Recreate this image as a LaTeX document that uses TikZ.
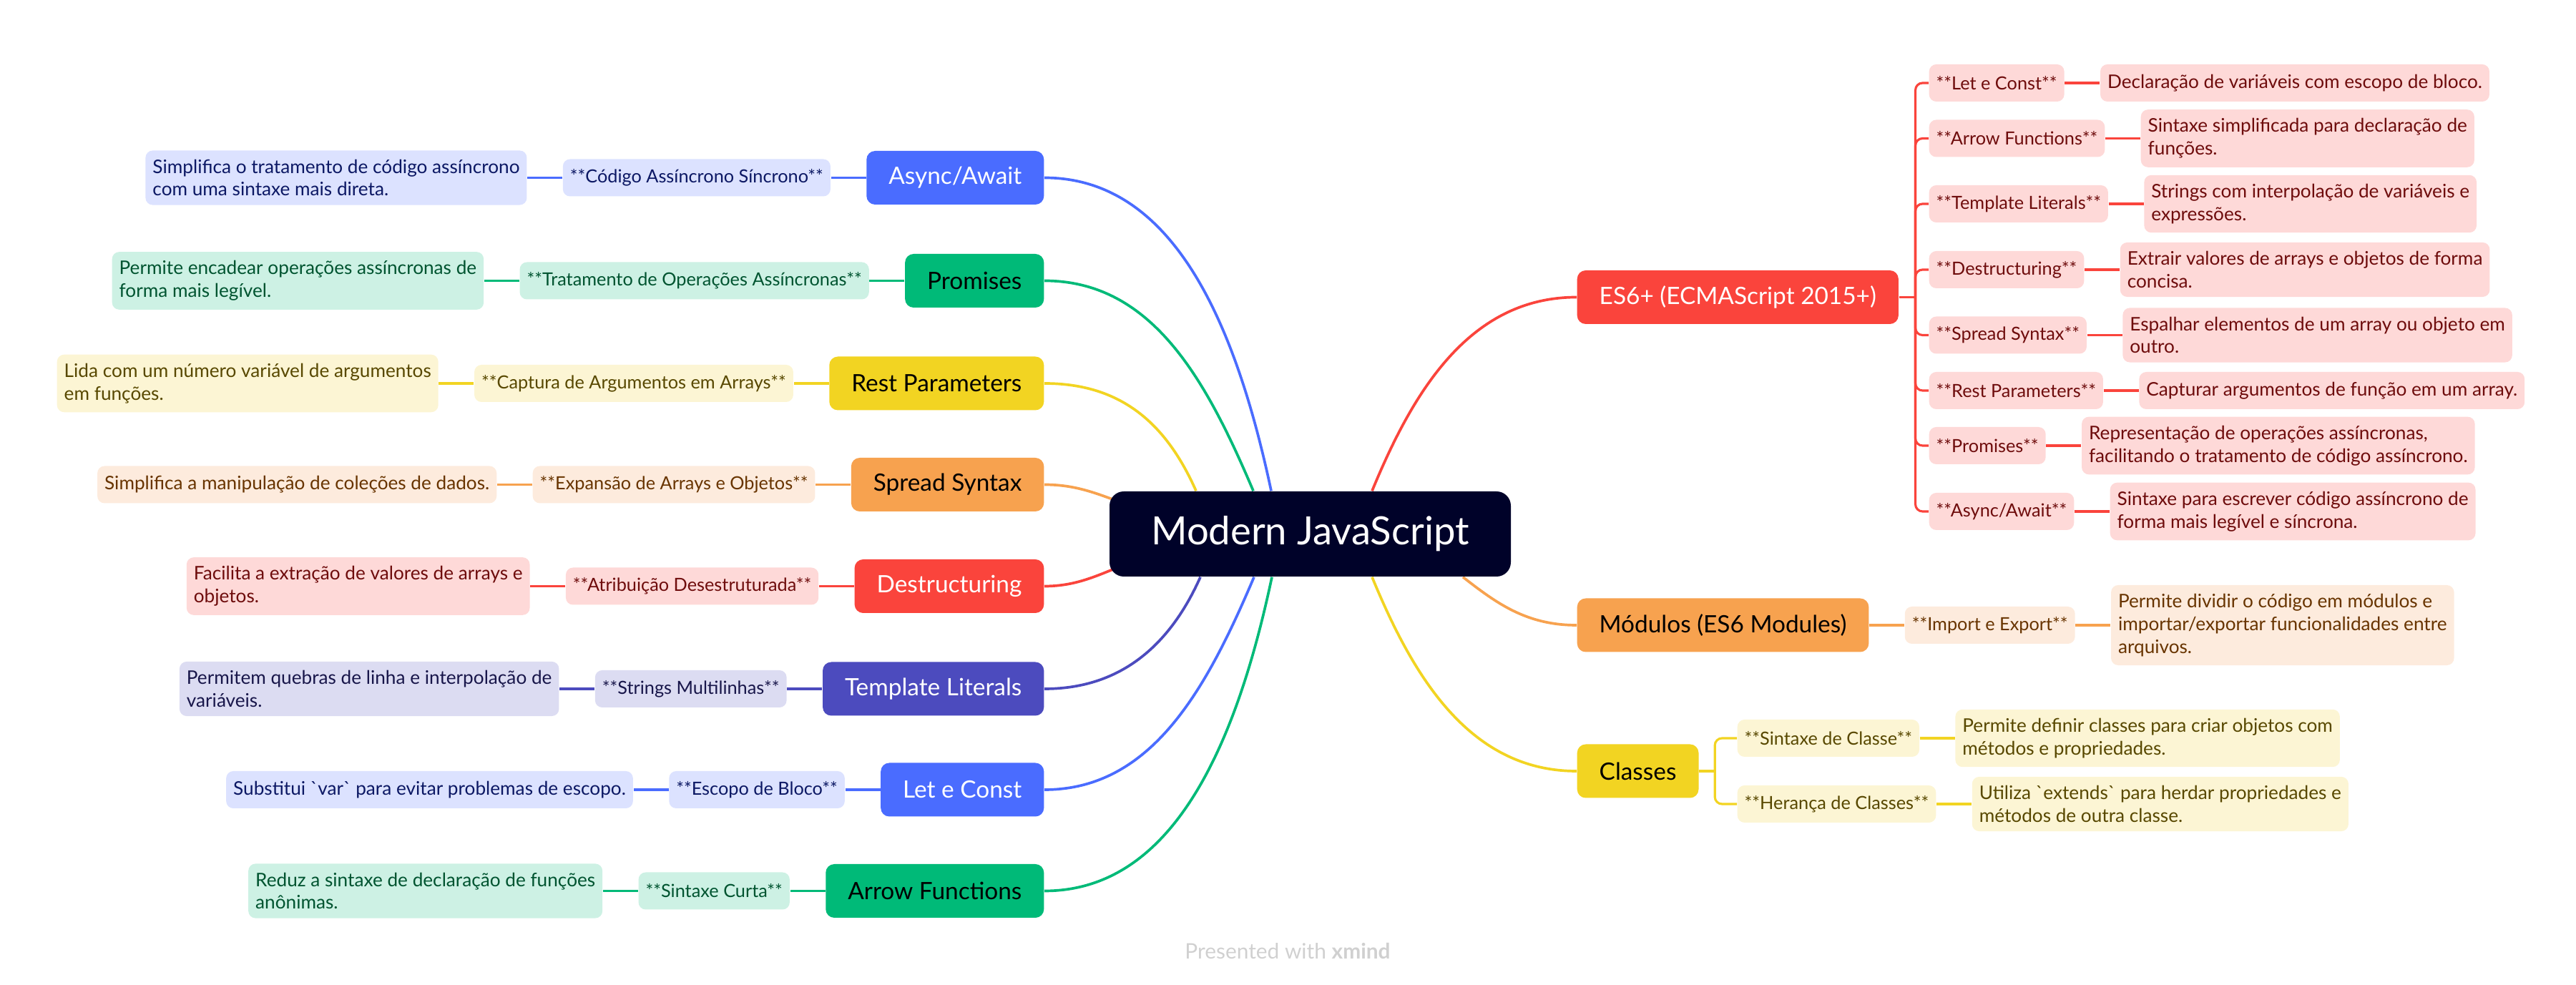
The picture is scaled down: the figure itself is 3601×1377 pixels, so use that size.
\documentclass[tikz,border=0pt]{standalone}
\usepackage{fontspec}
\setmainfont{Lato}
\usepackage{xcolor}
\usepackage{tikz}
\usetikzlibrary{positioning,backgrounds}
\definecolor{rootclr}{RGB}{0,2,41}
\definecolor{blueclr}{RGB}{74,108,255}
\definecolor{bluelt}{RGB}{220,226,255}
\definecolor{bluedk}{RGB}{12,24,100}
\definecolor{greenclr}{RGB}{0,186,120}
\definecolor{greenlt}{RGB}{205,241,228}
\definecolor{greendk}{RGB}{0,84,48}
\definecolor{yellowclr}{RGB}{242,212,34}
\definecolor{yellowlt}{RGB}{252,245,212}
\definecolor{yellowdk}{RGB}{88,72,0}
\definecolor{orangeclr}{RGB}{247,162,79}
\definecolor{orangelt}{RGB}{253,235,221}
\definecolor{orangedk}{RGB}{104,52,0}
\definecolor{redclr}{RGB}{250,68,60}
\definecolor{redlt}{RGB}{254,217,216}
\definecolor{reddk}{RGB}{110,12,12}
\definecolor{indigoclr}{RGB}{76,75,190}
\definecolor{indigolt}{RGB}{220,220,242}
\definecolor{indigodk}{RGB}{24,22,74}
\definecolor{footclr}{RGB}{208,208,208}
\tikzset{
  root/.style={rounded corners=2mm,fill=rootclr,text=white,
               minimum width=56.1mm,minimum height=11.9mm,
               font=\fontsize{15.5}{18}\selectfont},
  topic/.style={rounded corners=1.2mm,minimum height=7.5mm,inner xsep=3.1mm,
                font=\fontsize{9.5}{11}\selectfont},
  tag/.style={rounded corners=1mm,minimum height=5.2mm,inner xsep=1mm,inner ysep=1.4mm,
              font=\fontsize{7.2}{8.8}\selectfont},
  note/.style={tag,align=left,inner ysep=1.25mm,font=\fontsize{7.45}{9}\selectfont},
  link/.style={line width=1.05pt},
  sublink/.style={line width=0.9pt},
}
\newcommand{\tick}{\textasciigrave}

\begin{document}
\begin{tikzpicture}[x=0.1mm, y=-0.1mm, node distance=4.9mm]
\useasboundingbox (0,0) rectangle (3601,1377);
\node[root] (root) at (1831.5,746.5) {Modern JavaScript};

% left side
\node[topic, fill=blueclr, text=white, anchor=east] (async) at (1460,248.5) {Async/Await};
\node[tag, fill=bluelt, text=bluedk, left=of async] (asynctag) {**Código Assíncrono Síncrono**};
\node[note, fill=bluelt, text=bluedk, left=of asynctag] (asyncnote)
  {Simplifica o tratamento de código assíncrono\\com uma sintaxe mais direta.};
\node[topic, fill=greenclr, anchor=east] (prom) at (1460,392.5) {Promises};
\node[tag, fill=greenlt, text=greendk, left=of prom] (promtag) {**Tratamento de Operações Assíncronas**};
\node[note, fill=greenlt, text=greendk, left=of promtag] (promnote)
  {Permite encadear operações assíncronas de\\forma mais legível.};
\node[topic, fill=yellowclr, anchor=east] (rest) at (1460,536) {Rest Parameters};
\node[tag, fill=yellowlt, text=yellowdk, left=of rest] (resttag) {**Captura de Argumentos em Arrays**};
\node[note, fill=yellowlt, text=yellowdk, left=of resttag] (restnote)
  {Lida com um número variável de argumentos\\em funções.};
\node[topic, fill=orangeclr, anchor=east] (spread) at (1460,677.5) {Spread Syntax};
\node[tag, fill=orangelt, text=orangedk, left=of spread] (spreadtag) {**Expansão de Arrays e Objetos**};
\node[note, fill=orangelt, text=orangedk, left=of spreadtag] (spreadnote)
  {Simplifica a manipulação de coleções de dados.};
\node[topic, fill=redclr, text=white, anchor=east] (destr) at (1460,819.5) {Destructuring};
\node[tag, fill=redlt, text=reddk, left=of destr] (destrtag) {**Atribuição Desestruturada**};
\node[note, fill=redlt, text=reddk, left=of destrtag] (destrnote)
  {Facilita a extração de valores de arrays e\\objetos.};
\node[topic, fill=indigoclr, text=white, anchor=east] (tmpl) at (1460,963) {Template Literals};
\node[tag, fill=indigolt, text=indigodk, left=of tmpl] (tmpltag) {**Strings Multilinhas**};
\node[note, fill=indigolt, text=indigodk, left=of tmpltag] (tmplnote)
  {Permitem quebras de linha e interpolação de\\variáveis.};
\node[topic, fill=blueclr, text=white, anchor=east] (letc) at (1460,1104) {Let e Const};
\node[tag, fill=bluelt, text=bluedk, left=of letc] (letctag) {**Escopo de Bloco**};
\node[note, fill=bluelt, text=bluedk, left=of letctag] (letcnote)
  {Substitui \tick var\tick{} para evitar problemas de escopo.};
\node[topic, fill=greenclr, anchor=east] (arrow) at (1460,1245.5) {Arrow Functions};
\node[tag, fill=greenlt, text=greendk, left=of arrow] (arrowtag) {**Sintaxe Curta**};
\node[note, fill=greenlt, text=greendk, left=of arrowtag] (arrownote)
  {Reduz a sintaxe de declaração de funções\\anônimas.};

% right side: ES6+
\node[topic, fill=redclr, text=white, anchor=west] (es6) at (2204,415.5) {ES6+ (ECMAScript 2015+)};
\coordinate[right=2.3mm of es6.east] (es6j);
\node[tag, fill=redlt, text=reddk, anchor=west] (es6a) at (2696,116) {**Let e Const**};
\node[note, fill=redlt, text=reddk, right=of es6a] (es6anote) {Declaração de variáveis com escopo de bloco.};
\node[tag, fill=redlt, text=reddk, anchor=west] (es6b) at (2696,193.5) {**Arrow Functions**};
\node[note, fill=redlt, text=reddk, right=of es6b] (es6bnote) {Sintaxe simplificada para declaração de\\funções.};
\node[tag, fill=redlt, text=reddk, anchor=west] (es6c) at (2696,285) {**Template Literals**};
\node[note, fill=redlt, text=reddk, right=of es6c] (es6cnote) {Strings com interpolação de variáveis e\\expressões.};
\node[tag, fill=redlt, text=reddk, anchor=west] (es6d) at (2696,377) {**Destructuring**};
\node[note, fill=redlt, text=reddk, right=of es6d] (es6dnote) {Extrair valores de arrays e objetos de forma\\concisa.};
\node[tag, fill=redlt, text=reddk, anchor=west] (es6e) at (2696,468.5) {**Spread Syntax**};
\node[note, fill=redlt, text=reddk, right=of es6e] (es6enote) {Espalhar elementos de um array ou objeto em\\outro.};
\node[tag, fill=redlt, text=reddk, anchor=west] (es6f) at (2696,546) {**Rest Parameters**};
\node[note, fill=redlt, text=reddk, right=of es6f] (es6fnote) {Capturar argumentos de função em um array.};
\node[tag, fill=redlt, text=reddk, anchor=west] (es6g) at (2696,623) {**Promises**};
\node[note, fill=redlt, text=reddk, right=of es6g] (es6gnote) {Representação de operações assíncronas,\\facilitando o tratamento de código assíncrono.};
\node[tag, fill=redlt, text=reddk, anchor=west] (es6h) at (2696,715) {**Async/Await**};
\node[note, fill=redlt, text=reddk, right=of es6h] (es6hnote) {Sintaxe para escrever código assíncrono de\\forma mais legível e síncrona.};

% right side: modules and classes
\node[topic, fill=orangeclr, anchor=west] (mods) at (2204,874) {Módulos (ES6 Modules)};
\node[tag, fill=orangelt, text=orangedk, right=of mods] (modstag) {**Import e Export**};
\node[note, fill=orangelt, text=orangedk, right=of modstag] (modsnote)
  {Permite dividir o código em módulos e\\importar/exportar funcionalidades entre\\arquivos.};
\node[topic, fill=yellowclr, anchor=west] (cls) at (2204,1078) {Classes};
\coordinate[right=2.2mm of cls.east] (clsj);
\node[tag, fill=yellowlt, text=yellowdk, anchor=west] (clsa) at (2428,1032) {**Sintaxe de Classe**};
\node[note, fill=yellowlt, text=yellowdk, right=of clsa] (clsanote)
  {Permite definir classes para criar objetos com\\métodos e propriedades.};
\node[tag, fill=yellowlt, text=yellowdk, anchor=west] (clsb) at (2428,1124) {**Herança de Classes**};
\node[note, fill=yellowlt, text=yellowdk, right=of clsb] (clsbnote)
  {Utiliza \tick extends\tick{} para herdar propriedades e\\métodos de outra classe.};

\node[text=footclr, font=\fontsize{8.5}{10}\selectfont] (credit) at (1800,1330) {Presented with \textbf{xmind}};

\begin{scope}[on background layer]
% branches out of the root
\draw[link, blueclr] ([shift={(-54.5,0)}]root.north) to[out=102, in=0, out distance=24mm, in distance=18mm] (async.east);
\draw[link, greenclr] ([shift={(-79.5,0)}]root.north) to[out=113, in=0, out distance=17mm, in distance=15mm] (prom.east);
\draw[link, yellowclr] ([shift={(-159.5,0)}]root.north) to[out=114, in=0, out distance=10mm, in distance=11mm] (rest.east);
\draw[link, orangeclr] ([shift={(60,30)}]root.north west) to[out=165, in=0, out distance=6mm, in distance=6mm] (spread.east);
\draw[link, redclr] ([shift={(60,-30)}]root.south west) to[out=195, in=0, out distance=6mm, in distance=6mm] (destr.east);
\draw[link, indigoclr] ([shift={(-153.5,0)}]root.south) to[out=246, in=0, out distance=10mm, in distance=11mm] (tmpl.east);
\draw[link, blueclr] ([shift={(-78.5,0)}]root.south) to[out=247, in=0, out distance=17mm, in distance=15mm] (letc.east);
\draw[link, greenclr] ([shift={(-53.5,0)}]root.south) to[out=258, in=0, out distance=24mm, in distance=18mm] (arrow.east);
\draw[link, redclr] ([shift={(86.5,0)}]root.north) to[out=67.6, in=180, out distance=15mm, in distance=15mm] (es6.west);
\draw[link, orangeclr] ([shift={(213.5,0)}]root.south) to[out=-38, in=180, out distance=6mm, in distance=7mm] (mods.west);
\draw[link, yellowclr] ([shift={(86.5,0)}]root.south) to[out=-67.6, in=180, out distance=15mm, in distance=15mm] (cls.west);
% left chains
\draw[sublink, blueclr] (async) -- (asynctag) -- (asyncnote);
\draw[sublink, greenclr] (prom) -- (promtag) -- (promnote);
\draw[sublink, yellowclr] (rest) -- (resttag) -- (restnote);
\draw[sublink, orangeclr] (spread) -- (spreadtag) -- (spreadnote);
\draw[sublink, redclr] (destr) -- (destrtag) -- (destrnote);
\draw[sublink, indigoclr] (tmpl) -- (tmpltag) -- (tmplnote);
\draw[sublink, blueclr] (letc) -- (letctag) -- (letcnote);
\draw[sublink, greenclr] (arrow) -- (arrowtag) -- (arrownote);
% ES6+ bracket
\draw[sublink, redclr] (es6.east) -- (es6j);
\draw[sublink, redclr, rounded corners=1mm] (es6j) |- (es6a.west); \draw[sublink, redclr, rounded corners=1mm] (es6j) |- (es6b.west);
\draw[sublink, redclr, rounded corners=1mm] (es6j) |- (es6c.west); \draw[sublink, redclr, rounded corners=1mm] (es6j) |- (es6d.west);
\draw[sublink, redclr, rounded corners=1mm] (es6j) |- (es6e.west); \draw[sublink, redclr, rounded corners=1mm] (es6j) |- (es6f.west);
\draw[sublink, redclr, rounded corners=1mm] (es6j) |- (es6g.west); \draw[sublink, redclr, rounded corners=1mm] (es6j) |- (es6h.west);
\draw[sublink, redclr] (es6a) -- (es6anote); \draw[sublink, redclr] (es6b) -- (es6bnote);
\draw[sublink, redclr] (es6c) -- (es6cnote); \draw[sublink, redclr] (es6d) -- (es6dnote);
\draw[sublink, redclr] (es6e) -- (es6enote); \draw[sublink, redclr] (es6f) -- (es6fnote);
\draw[sublink, redclr] (es6g) -- (es6gnote); \draw[sublink, redclr] (es6h) -- (es6hnote);
% modules and classes
\draw[sublink, orangeclr] (mods) -- (modstag) -- (modsnote);
\draw[sublink, yellowclr] (cls.east) -- (clsj);
\draw[sublink, yellowclr, rounded corners=1mm] (clsj) |- (clsa.west); \draw[sublink, yellowclr, rounded corners=1mm] (clsj) |- (clsb.west);
\draw[sublink, yellowclr] (clsa) -- (clsanote); \draw[sublink, yellowclr] (clsb) -- (clsbnote);
\end{scope}
\end{tikzpicture}
\end{document}
